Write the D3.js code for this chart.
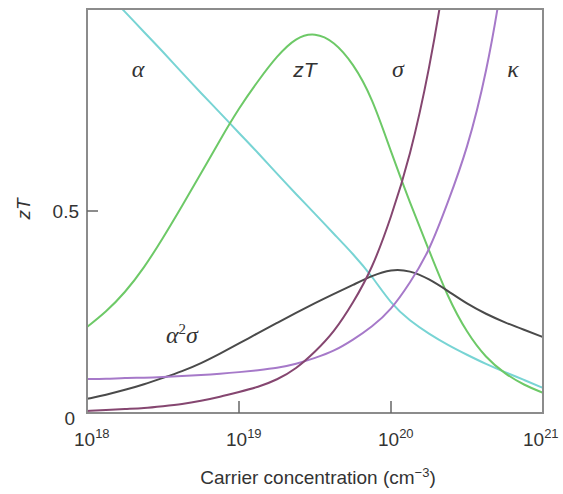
<!DOCTYPE html>
<html><head><meta charset="utf-8">
<script src="https://cdn.jsdelivr.net/npm/d3@7"></script>
<style>body{margin:0;background:#fff}svg{display:block}</style>
</head><body>
<svg id="c" width="563" height="494"></svg>
<script>
// log10 of carrier concentration (cm^-3)
const logN = [18,18.125,18.25,18.375,18.5,18.625,18.75,18.875,19,19.125,19.25,19.375,19.5,19.625,19.75,19.875,20,20.125,20.25,20.375,20.5,20.625,20.75,20.875,21];
const alphaV = [1.092,1.042,0.993,0.943,0.894,0.842,0.792,0.743,0.693,0.644,0.592,0.542,0.493,0.443,0.394,0.339,0.270,0.228,0.196,0.168,0.144,0.121,0.101,0.082,0.062];
const zTV    = [0.213,0.250,0.298,0.359,0.433,0.512,0.593,0.676,0.755,0.822,0.884,0.930,0.942,0.920,0.866,0.782,0.646,0.520,0.403,0.285,0.198,0.136,0.097,0.069,0.050];
const pfV    = [0.035,0.045,0.057,0.071,0.087,0.103,0.123,0.147,0.172,0.198,0.223,0.248,0.272,0.295,0.317,0.340,0.356,0.353,0.332,0.302,0.270,0.245,0.224,0.206,0.188];
const sigmaV = [0.005,0.007,0.010,0.012,0.017,0.022,0.030,0.040,0.052,0.064,0.082,0.109,0.151,0.200,0.272,0.356,0.483,0.634,0.844,1.12,1.50,null,null,null,null];
const kappaV = [0.084,0.084,0.087,0.087,0.089,0.092,0.094,0.097,0.101,0.106,0.111,0.121,0.136,0.153,0.181,0.213,0.255,0.322,0.399,0.522,0.651,0.834,1.10,1.50,null];
const xTickExp = [18,19,20,21];
const yTicks = [0,0.5];

const series = [
  {name:"alpha", vals:alphaV, color:"#78d4d4"},
  {name:"zT", vals:zTV, color:"#6dc967"},
  {name:"pf", vals:pfV, color:"#4a4a4a"},
  {name:"kappa", vals:kappaV, color:"#a679c9"},
  {name:"sigma", vals:sigmaV, color:"#854670"}
];

const svg = d3.select("#c");
const L=87,R=543,T=9,B=413;
const x = d3.scaleLog().domain([1e18,1e21]).range([L,R]);
const y = d3.scaleLinear().domain([0,1]).range([B,T]);

svg.append("clipPath").attr("id","clip").append("rect")
  .attr("x",L).attr("y",T).attr("width",R-L).attr("height",B-T);

const line = d3.line()
  .defined(d=>d[1]!=null)
  .x(d=>x(Math.pow(10,d[0]))).y(d=>y(d[1]))
  .curve(d3.curveBasis);

const g = svg.append("g").attr("clip-path","url(#clip)");
series.forEach(s=>{
  g.append("path").datum(logN.map((e,i)=>[e,s.vals[i]]))
   .attr("d",line).attr("fill","none").attr("stroke",s.color)
   .attr("stroke-width",2);
});

svg.append("rect").attr("x",L).attr("y",T).attr("width",R-L).attr("height",B-T)
  .attr("fill","none").attr("stroke","#8c8c8c").attr("stroke-width",2);

const font = "'Liberation Sans', Arial, sans-serif";
xTickExp.forEach(e=>{
  const px = x(Math.pow(10,e));
  if(e>18 && e<21) svg.append("line").attr("x1",px).attr("x2",px).attr("y1",B).attr("y2",B-12)
     .attr("stroke","#666").attr("stroke-width",1.5);
  const t = svg.append("text").attr("x",px-(e===21?20:13)).attr("y",446)
     .attr("font-family",font).attr("font-size",19).attr("fill","#333");
  t.append("tspan").text("10");
  t.append("tspan").attr("dy",-8).attr("font-size",13).text(String(e));
});
yTicks.forEach(v=>{
  const py = y(v);
  if(v>0) svg.append("line").attr("x1",L).attr("x2",L+11).attr("y1",py).attr("y2",py)
     .attr("stroke","#666").attr("stroke-width",1.5);
  svg.append("text").attr("x", v===0?75:79).attr("y", v===0?425:py+7)
     .attr("text-anchor","end").attr("font-family",font).attr("font-size",19)
     .attr("fill","#333").text(v===0?"0":"0.5");
});

const xt = svg.append("text").attr("x",318).attr("y",484).attr("text-anchor","middle")
  .attr("font-family",font).attr("font-size",19).attr("fill","#333");
xt.append("tspan").text("Carrier concentration (cm");
xt.append("tspan").attr("dy",-7).attr("font-size",13).text("\u22123");
xt.append("tspan").attr("dy",7).text(")");

svg.append("text").attr("transform","translate(30,209) rotate(-90)")
  .attr("text-anchor","middle").attr("font-family",font).attr("font-style","italic")
  .attr("font-size",19).attr("fill","#333").text("zT");

const serif = "'Liberation Serif','Times New Roman',serif";
function lab(txt,xx,yy,fam,style,size){
  return svg.append("text").attr("x",xx).attr("y",yy).attr("text-anchor","middle")
   .attr("font-family",fam).attr("font-style",style).attr("font-size",size)
   .attr("fill","#333").text(txt);
}
lab("\u03b1",138,77,serif,"italic",24);
lab("zT",305,77,font,"italic",21);
lab("\u03c3",398,77,serif,"italic",24);
lab("\u03ba",513,77,serif,"italic",24);
const pf = svg.append("text").attr("x",166).attr("y",343)
  .attr("font-family",serif).attr("font-style","italic").attr("font-size",24).attr("fill","#333");
pf.append("tspan").text("\u03b1");
pf.append("tspan").attr("dy",-9).attr("font-size",15).attr("font-style","normal").text("2");
pf.append("tspan").attr("dy",9).text("\u03c3");
</script>
</body></html>
